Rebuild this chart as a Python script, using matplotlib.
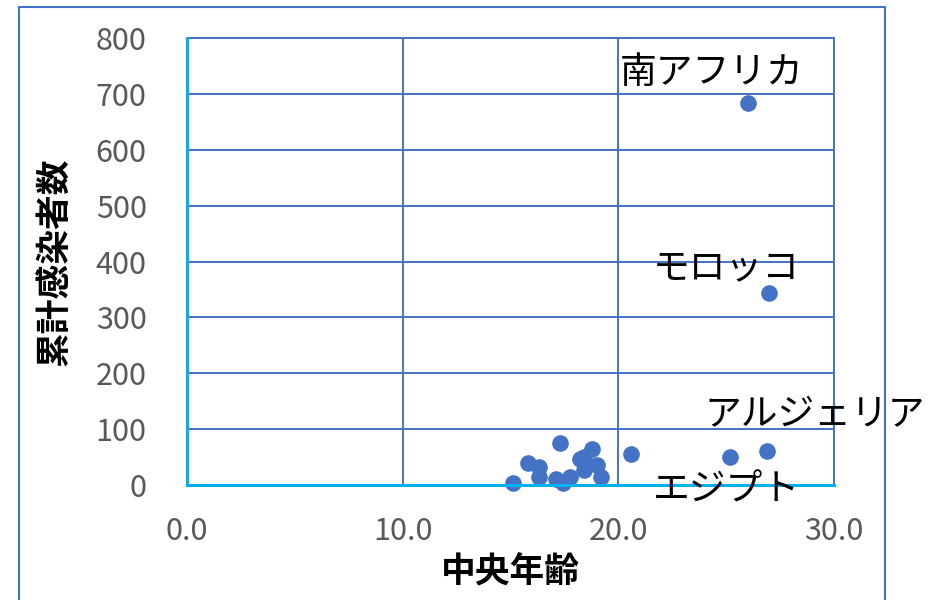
import matplotlib
matplotlib.use("Agg")
import matplotlib.pyplot as plt
from matplotlib.patches import Rectangle

plt.rcParams['font.family'] = ['Noto Sans CJK JP', 'DejaVu Sans']

# median age vs cumulative infections
median_age = [15.1, 15.8, 16.3, 16.3, 17.3, 17.1, 17.45, 17.75, 18.2, 18.4,
              18.8, 18.4, 19.0, 19.2, 20.6, 25.2, 26.9, 26.0, 27.0]
infections = [3, 39, 33, 15, 75, 10, 3, 14, 46, 50,
              64, 27, 36, 15, 55, 50, 61, 684, 344]

label_names = ['南アフリカ', 'モロッコ', 'アルジェリア', 'エジプト']
label_x = [20.05, 21.6, 24.0, 21.6]
label_y = [738, 389, 126, -9]

x_ticks = [0, 10, 20, 30]
y_ticks = [0, 100, 200, 300, 400, 500, 600, 700, 800]

blue = '#4472C4'
cyan = '#00B0F0'
gray = '#595959'

fig = plt.figure(figsize=(9.42, 6), dpi=100)
fig.patches.append(Rectangle((19/942, -0.05), (885-19)/942, 0.05 + 593/600,
                             transform=fig.transFigure, fill=False,
                             edgecolor=blue, linewidth=1.5))
ax = fig.add_axes([187/942, 115/600, (834-187)/942, (485-38)/600])

ax.scatter(median_age, infections, s=120, color=blue, zorder=3, clip_on=False)

ax.set_xlim(0, 30)
ax.set_ylim(0, 800)
ax.set_xticks(x_ticks)
ax.set_xticklabels([f'{v:.1f}' for v in x_ticks])
ax.set_yticks(y_ticks)
ax.set_yticklabels([str(v) for v in y_ticks])
ax.tick_params(axis='both', length=0, labelsize=22, labelcolor=gray)
ax.tick_params(axis='x', pad=22)
ax.tick_params(axis='y', pad=29)

ax.grid(True, color=blue, linewidth=1.4)
ax.set_axisbelow(True)
for side in ['top', 'right']:
    ax.spines[side].set_color(blue)
    ax.spines[side].set_linewidth(1.4)
for side in ['left', 'bottom']:
    ax.spines[side].set_color(cyan)
    ax.spines[side].set_linewidth(2.2)
    ax.spines[side].set_zorder(4)

ax.set_xlabel('中央年齢', fontsize=25, fontweight='bold', labelpad=6)
ax.set_ylabel('累計感染者数', fontsize=25, fontweight='bold', labelpad=17)

for name, lx, ly in zip(label_names, label_x, label_y):
    ax.text(lx, ly, name, fontsize=26.5, ha='left', va='center', clip_on=False, zorder=5)

fig.savefig('out.png', dpi=100)
